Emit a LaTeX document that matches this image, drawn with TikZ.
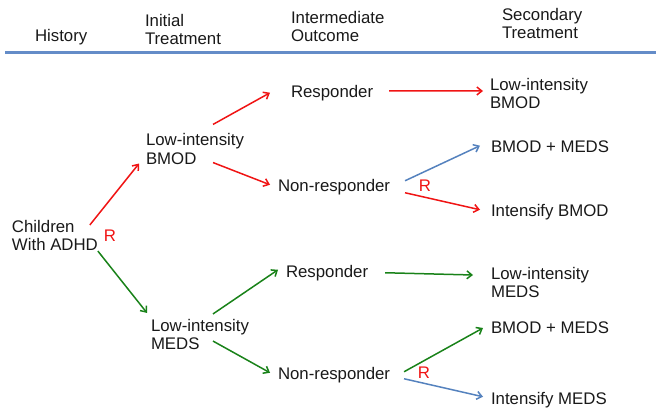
\documentclass[tikz,border=0pt]{standalone}
\usepackage{fontspec}
\setmainfont{Liberation Sans}
\usepackage{xcolor}
\usetikzlibrary{arrows.meta}
\definecolor{armred}{RGB}{240,20,20}
\definecolor{armgreen}{RGB}{25,130,25}
\definecolor{armblue}{RGB}{85,130,190}
\definecolor{rulecol}{RGB}{100,140,200}

\begin{document}
\begin{tikzpicture}[
    x=1pt, y=-1pt,
    lbl/.style={anchor=west, inner sep=0pt, outer sep=0pt, align=left, text=black!90, font=\fontsize{16.8}{18.8}\selectfont},
    rmark/.style={inner sep=0pt, text=armred, font=\fontsize{16.8}{18.8}\selectfont},
    arm/.style={line width=1.5pt, -{Straight Barb[length=5pt,width=8pt]}},
    redarm/.style={arm, draw=armred},
    greenarm/.style={arm, draw=armgreen},
    bluearm/.style={arm, draw=armblue}
]
    \useasboundingbox (0,0) rectangle (656,407);

    % Column headers
    \node[lbl] (hist) at (35,37.5) {History};
    \node[lbl] (hinit) at (145,29.5) {Initial\\Treatment};
    \node[lbl] (hint) at (291,26.5) {Intermediate\\Outcome};
    \node[lbl] (hsec) at (502,23.5) {Secondary\\Treatment};
    \draw[rulecol, line width=2.4pt] (5,52.5) -- (656,52.5);

    % History
    \node[lbl] (kids) at (12,235.5) {Children\\With ADHD};
    \node[rmark] (rA) at (110,236) {R};

    % Initial treatment
    \node[lbl] (bmod) at (146,149) {Low-intensity\\BMOD};
    \node[lbl] (meds) at (151,334.5) {Low-intensity\\MEDS};

    % Intermediate outcome
    \node[lbl] (resA) at (291,92.75) {Responder};
    \node[lbl] (nonA) at (278,186.75) {Non-responder};
    \node[lbl] (resB) at (286,272.75) {Responder};
    \node[lbl] (nonB) at (278,374.75) {Non-responder};
    \node[rmark] (rB) at (425,186) {R};
    \node[rmark] (rC) at (424,373) {R};

    % Secondary treatment
    \node[lbl] (outA) at (490,93.5) {Low-intensity\\BMOD};
    \node[lbl] (outB) at (491,146.7) {BMOD + MEDS};
    \node[lbl] (outC) at (491,211.75) {Intensify BMOD};
    \node[lbl] (outD) at (491,282.5) {Low-intensity\\MEDS};
    \node[lbl] (outE) at (491,328) {BMOD + MEDS};
    \node[lbl] (outF) at (491,399.75) {Intensify MEDS};

    % Connections
    \draw[redarm] ([xshift=-8pt,yshift=-5pt]kids.north east) -- ([xshift=-7pt,yshift=1pt]bmod.south west);
    \draw[greenarm] (kids.south east) -- ([xshift=-4pt,yshift=6pt]meds.north west);
    \draw[redarm] ([xshift=18pt,yshift=9pt]bmod.north) -- ([xshift=-21pt]resA.west);
    \draw[redarm] ([xshift=18pt,yshift=2pt]bmod.south) -- ([xshift=-8pt,yshift=2pt]nonA.west);
    \draw[greenarm] ([xshift=13pt,yshift=5pt]meds.north) -- ([xshift=-8pt,yshift=3pt]resB.west);
    \draw[greenarm] ([xshift=13pt,yshift=9pt]meds.south) -- ([xshift=-8pt,yshift=2pt]nonB.west);
    \draw[redarm] ([xshift=16pt,yshift=2pt]resA.east) -- ([xshift=-7pt,yshift=2.5pt]outA.west);
    \draw[bluearm] ([xshift=15pt,yshift=6pt]nonA.east) -- ([xshift=-11pt,yshift=1pt]outB.west);
    \draw[redarm] ([xshift=15pt,yshift=-6pt]nonA.east) -- ([xshift=-11pt,yshift=2pt]outC.west);
    \draw[greenarm] ([xshift=17pt]resB.east) -- ([xshift=-18pt,yshift=7.5pt]outD.west);
    \draw[greenarm] ([xshift=14pt,yshift=3pt]nonB.east) -- ([xshift=-8pt]outE.west);
    \draw[bluearm] ([xshift=14pt,yshift=-4pt]nonB.east) -- ([xshift=-8pt,yshift=3pt]outF.west);
\end{tikzpicture}
\end{document}
